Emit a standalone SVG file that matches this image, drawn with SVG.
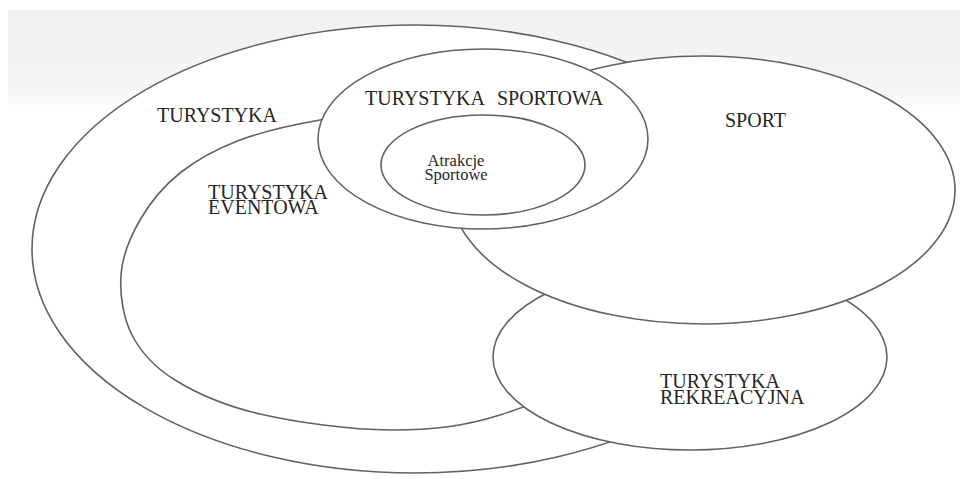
<svg xmlns="http://www.w3.org/2000/svg" width="960" height="479" viewBox="0 0 960 479">
<defs>
<style>
.shape{fill:#ffffff;stroke:#626262;stroke-width:1.6}
.lbl{font-family:"Liberation Serif","Times New Roman",serif;font-size:20px;fill:#262626}
.sm{font-size:16.5px}
</style>
<linearGradient id="band" x1="0" y1="0" x2="0" y2="1">
<stop offset="0" stop-color="#f1f1f1"/>
<stop offset="0.8" stop-color="#f5f5f5"/>
<stop offset="1" stop-color="#fbfbfb"/>
</linearGradient>
</defs>
<rect x="0" y="0" width="960" height="479" fill="#ffffff"/>
<rect x="8" y="10" width="952" height="95" fill="url(#band)"/>
<g id="turystyka">
<ellipse class="shape" cx="415" cy="249" rx="383" ry="224"/>
<text class="lbl" x="157" y="122">TURYSTYKA</text>
</g>
<g id="turystyka-eventowa">
<path class="shape" d="M320,120 C291.7,125 263.3,131.2 240,140 C216.7,148.8 196.7,159.7 180,173 C163.3,186.3 149.8,203 140,220 C130.2,237 122.3,255.8 121,275 C119.7,294.2 123,317.5 132,335 C141,352.5 153.7,366.8 175,380 C196.3,393.2 224.2,405.7 260,414 C295.8,422.3 350,429.8 390,430 C430,430.2 463.3,426.7 500,415 C536.7,403.3 583,384.2 610,360 C637,335.8 658.7,300 662,270 C665.3,240 653.7,204.7 630,180 C606.3,155.3 556.7,133.7 520,122 C483.3,110.3 443.3,110.3 410,110 C376.7,109.7 348.3,115 320,120 Z"/>
<text class="lbl" x="208" y="199">TURYSTYKA</text>
<text class="lbl" x="208" y="214">EVENTOWA</text>
</g>
<g id="turystyka-rekreacyjna">
<ellipse class="shape" cx="690" cy="357" rx="197" ry="93"/>
<text class="lbl" x="660" y="388">TURYSTYKA</text>
<text class="lbl" x="660" y="404">REKREACYJNA</text>
</g>
<g id="sport">
<ellipse class="shape" cx="703" cy="190" rx="252" ry="134"/>
<text class="lbl" x="725" y="127">SPORT</text>
</g>
<g id="turystyka-sportowa">
<ellipse class="shape" cx="483" cy="139" rx="165" ry="90"/>
<text class="lbl" x="365" y="105" word-spacing="8">TURYSTYKA SPORTOWA</text>
</g>
<g id="atrakcje-sportowe">
<ellipse class="shape" cx="483" cy="165" rx="102" ry="50"/>
<text class="lbl sm" x="456" y="166" text-anchor="middle">Atrakcje</text>
<text class="lbl sm" x="456" y="180" text-anchor="middle">Sportowe</text>
</g>
<g id="connectors"></g>
</svg>
